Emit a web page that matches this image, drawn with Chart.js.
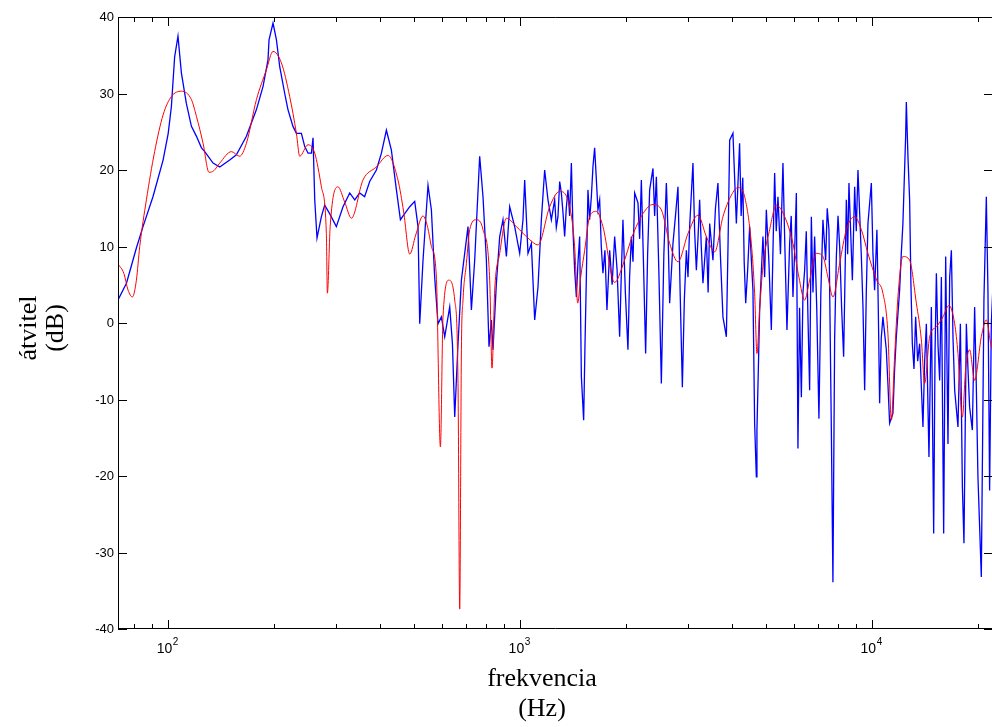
<!DOCTYPE html>
<html>
<head>
<meta charset="utf-8">
<script src="https://cdn.jsdelivr.net/npm/chart.js@4.4.1/dist/chart.umd.min.js"></script>
<style>
  html, body { margin: 0; padding: 0; background: #fff; overflow: hidden; }
  #wrap { width: 1000px; height: 727px; }
</style>
</head>
<body>
<div id="wrap"><canvas id="atvitel" width="1000" height="727"></canvas></div>
<script>
// measured transfer (blue) and smoothed version (red), frequency in Hz, level in dB
const blueFreq = [72, 76.1, 81.2, 84.8, 90.5, 96.7, 100, 102.1, 104.3, 106.6, 109, 112.6, 116.4, 120.3, 124.3, 127, 134.1, 140.1, 149.5, 156.2,
  166.8, 178.1, 185.9, 192.1, 193.4, 198.5, 203, 207.4, 214.3, 218.9, 226.2, 231.3, 239, 244.2, 249.6, 255.2, 257.9, 260.8, 264.7, 272.4,
  278.3, 287.5, 300.4, 313.8, 327.9, 338.8, 349.9, 361.5, 373.6, 390.4, 403.4, 416.8, 430.6, 445, 456.8, 469.8, 485.5, 501.6, 512.6, 518.3,
  529.6, 547.2, 559.4, 571.6, 584.2, 597.3, 610.4, 630.7, 642, 651.7, 665.9, 680.8, 695.6, 710.8, 726.8, 742.6, 767.3, 784.1, 801.7, 815.5,
  828.4, 837, 855.9, 874.6, 893.6, 913.8, 933.7, 964.7, 996.8, 1018.5, 1029.9, 1052.4, 1076, 1099.6, 1123.6, 1148.7, 1173.8, 1199.5, 1226.3, 1253.1,
  1266.7, 1280.5, 1295, 1309.2, 1323, 1337.8, 1352, 1367.1, 1382, 1397.9, 1413, 1428.3, 1444.4, 1460, 1475.7, 1492.3, 1514.8, 1528, 1541.9, 1558,
  1575, 1593.1, 1609.7, 1627.6, 1645, 1663.2, 1682.1, 1700, 1718.5, 1741, 1764.2, 1795.7, 1825, 1855.4, 1885, 1917, 1937, 1958.9, 1990, 2024,
  2046, 2069.7, 2092, 2114.9, 2161.2, 2185, 2209.5, 2240, 2272.5, 2302, 2332.9, 2384, 2410, 2437.4, 2477, 2518.4, 2560, 2602.1, 2630, 2659,
  2717.2, 2762, 2807.5, 2848, 2889.5, 2927, 2966.3, 2998, 3030.5, 3096.8, 3131, 3166.7, 3200, 3235.2, 3270, 3306, 3380.6, 3420, 3455, 3529.5,
  3588, 3647, 3705, 3768.2, 3853.3, 3895, 3937.6, 4022.7, 4113.6, 4201.6, 4245, 4290, 4330, 4372.9, 4430, 4487.2, 4585.2, 4636.2, 4688, 4706.6,
  4750, 4790.5, 4895.3, 4950, 5005, 5090, 5171.4, 5230, 5284.6, 5340, 5400.2, 5490, 5579.7, 5650, 5727.9, 5829.5, 5890, 5956.9, 6020, 6091.4,
  6155, 6220, 6294, 6360, 6430.2, 6500, 6570.9, 6644, 6718.6, 6790, 6864.2, 6960, 7061.3, 7150, 7248, 7377.6, 7455, 7538.9, 7658, 7738,
  7825, 7912.8, 8000, 8085.9, 8190, 8299.3, 8447.6, 8520, 8592.8, 8786.9, 8920, 9015, 9115.2, 9319, 9420, 9523, 9625, 9730, 9948, 10055,
  10164, 10318, 10410, 10502, 10615, 10732, 10972, 11090, 11212, 11457, 11585, 11715, 11970, 12100, 12231, 12451, 12508, 12639, 12780, 12890,
  13008, 13150, 13293, 13470, 13645, 13944, 14100, 14259, 14504, 14734, 14957, 15090, 15224, 15390, 15557, 15730, 15968, 16179, 16425, 16608,
  16792, 16975, 17160, 17535, 17812, 18047, 18235, 18522, 18720, 18923, 19262, 19554, 19765, 19981, 20428, 20780, 21108, 21333, 21569, 21809,
  22050];
const blueDb = [3.0, 5.2, 9.8, 12.6, 16.5, 21.3, 24.8, 28.3, 34.8, 37.5, 32.7, 28.7, 25.7, 24.4, 22.9, 22.4, 20.9, 20.4, 21.3, 22.0,
  24.4, 27.9, 30.9, 34.4, 37.0, 39.2, 37.0, 33.5, 30.0, 27.9, 25.7, 24.8, 24.8, 23.1, 22.2, 22.2, 24.2, 16.1, 11.1, 13.9,
  15.4, 14.3, 12.6, 15.2, 17.0, 16.1, 17.0, 16.5, 18.5, 20.0, 22.2, 25.2, 22.6, 17.4, 13.5, 14.3, 15.2, 15.9, 12.6, -0.1,
  8.2, 18.0, 14.8, 6.0, -0.1, 0.8, -1.8, 2.1, -2.7, -12.3, -2.7, 5.6, 9.1, 12.6, 1.7, 8.2, 21.8, 16.5, 8.2, -3.1,
  0.4, -3.5, 5.2, 11.3, 13.5, 8.7, 15.2, 12.6, 9.1, 13.5, 18.7, 9.1, 10.4, 0.4, 4.7, 13.5, 20.0, 16.1, 13.5, 16.1,
  12.5, 13.9, 18.5, 17.0, 14.5, 11.3, 15.0, 17.4, 14.0, 20.9, 12.0, 6.9, 3.4, 8.0, 11.3, -7.0, -12.7, -3.0, 6.0, 17.4,
  13.5, 16.5, 20.4, 22.9, 19.0, 14.8, 16.1, 10.0, 6.5, 9.5, 1.7, 9.5, 5.0, 11.3, 7.0, -1.8, 6.0, 13.5, 4.0, -3.5,
  6.0, 11.3, 8.0, 17.0, 15.7, 11.0, 18.7, 8.0, -4.0, 9.0, 17.4, 20.2, 14.0, 19.1, 7.0, -7.9, 9.0, 18.3, 12.0, 2.6,
  10.4, 14.0, 17.8, 4.0, -8.4, 3.0, 9.5, 6.0, 12.6, 20.9, 12.0, 6.9, 11.0, 16.1, 10.0, 5.2, 11.3, 4.0, 13.0, 8.2,
  15.0, 18.3, 9.0, 0.8, -1.8, 10.0, 23.9, 24.8, 13.0, 23.5, 14.0, 19.0, 8.0, 2.6, 7.0, 12.6, 4.3, -13.1, -20.1, -14.0,
  -6.0, 1.7, 11.3, 6.0, 14.8, 8.0, -0.9, 10.0, 19.6, 12.0, 16.5, 9.0, 20.9, 10.0, -0.9, 10.4, 14.0, 3.4, 9.0, 17.0,
  -16.4, 2.0, -9.7, 4.0, 6.9, 12.0, 0.8, -8.8, 13.9, 4.0, 11.3, 2.0, -12.5, 4.0, 13.5, 8.2, 15.0, 12.2, -14.0, -33.9,
  -2.0, 8.7, 14.0, 10.0, 2.0, -4.4, 16.1, 9.0, 18.3, 5.6, 17.8, 12.0, 20.0, 8.7, 2.0, -8.8, 4.0, 13.0, 18.3, 9.0,
  4.3, 12.2, 2.0, -10.5, -2.0, 0.8, -3.5, -8.0, -13.1, -11.8, -6.0, -1.8, 4.3, 9.0, 13.0, 24.4, 28.9, 21.8, 16.1, 5.0,
  -2.7, -6.0, 0.8, -5.0, -2.7, -13.6, -5.0, -0.1, -17.5, 2.1, -27.5, -4.0, 6.5, -3.0, -7.5, 6.0, -27.5, 8.7, -15.8, 6.0,
  9.5, -2.0, -8.8, -13.6, -0.1, -21.4, -28.8, -0.1, -6.0, -11.0, -14.0, 2.1, -8.0, -20.1, -33.2, 3.0, 16.5, 4.3, -21.9, -0.1,
  5.0];

const redFreq = [72, 74.8, 76.9, 79.1, 81.2, 83, 86.7, 91.5, 96.7, 102.1, 109, 116.4, 120.3, 125.6, 130.6, 134.7, 140.1, 151.2, 159.6, 166.8,
  178.1, 190.1, 198.5, 209.7, 221.4, 231.3, 236.4, 249.6, 260.8, 272.4, 281.4, 283.3, 288.5, 303.6, 317.3, 331.6, 357.6, 390.4, 421.1, 449.5,
  466.7, 485.5, 504.9, 529.6, 546.1, 559.4, 578, 593.4, 603.6, 627.8, 651.7, 665.9, 673.3, 680.8, 688, 703.5, 718.7, 751, 784.1, 819.3,
  831.7, 846.5, 874.6, 913.8, 975.4, 1064, 1123.6, 1213, 1294.5, 1382.4, 1428, 1457, 1485.6, 1525, 1575.2, 1646, 1718.5, 1855.4, 1958.9, 2080.7,
  2233, 2384, 2518, 2659, 2807.5, 2998, 3200, 3380.6, 3569.5, 3768, 3981, 4157, 4343, 4537, 4636, 4706.6, 4790, 4895, 5115, 5344,
  5642, 5957, 6194, 6430, 6644, 6943, 7248, 7489, 7738, 8086, 8448, 8920, 9319, 9730, 10299, 10732, 11089, 11340, 11584, 11838,
  12231, 12780, 13354, 13798, 14099, 14570, 15224, 15894, 16532, 17160, 17535, 18047, 18437, 18923, 19554, 20428, 21108, 21809, 22050];
const redDb = [7.7, 6.5, 4.3, 3.4, 5.6, 10.0, 16.1, 22.4, 27.2, 29.6, 30.3, 29.2, 27.0, 23.5, 19.7, 19.9, 20.9, 22.4, 21.8, 23.5,
  29.2, 33.1, 35.5, 34.0, 29.6, 24.8, 21.8, 23.3, 22.2, 17.8, 11.7, 3.9, 12.6, 17.8, 15.8, 13.7, 18.7, 20.4, 21.9, 18.7,
  14.5, 9.0, 11.5, 14.0, 12.5, 10.0, 6.0, -16.2, 0.8, 5.6, 3.0, -7.9, -37.4, -3.5, 3.0, 7.8, 12.2, 13.5, 12.2, 5.6,
  -5.9, 4.3, 9.1, 13.7, 12.6, 10.9, 10.2, 15.2, 17.2, 15.2, 10.0, 2.6, 6.0, 9.5, 13.9, 14.6, 12.6, 5.3, 7.6, 11.3,
  14.3, 15.5, 14.8, 10.4, 8.0, 11.7, 14.1, 11.3, 9.3, 13.9, 16.7, 17.7, 16.5, 10.4, 3.9, -4.0, 1.7, 7.4, 12.2, 15.4,
  13.9, 10.4, 6.0, 3.0, 5.6, 9.1, 8.7, 6.0, 3.4, 7.8, 12.2, 13.9, 12.2, 9.1, 5.6, 3.9, -1.4, -12.7, -4.4, 3.4,
  8.7, 8.2, 2.6, -2.2, -7.9, -1.8, -0.5, 0.8, 2.3, -0.1, -4.0, -12.3, -6.0, -3.5, -7.5, -1.8, 0.4, -3.1, -3.5];

const yTicks = [-40, -30, -20, -10, 0, 10, 20, 30, 40];
const xMajorTicks = [100, 1000, 10000];
const xMajorExp = ['2', '3', '4'];
const xTitle = ['frekvencia', '(Hz)'];
const yTitle = ['átvitel', '(dB)'];

const toPoints = (fs, vs) => fs.map((f, i) => ({ x: f, y: vs[i] }));

const matlabAxes = {
    id: 'matlabAxes',
    afterDraw(chart) {
        const ctx = chart.ctx;
        const xs = chart.scales.x, ys = chart.scales.y;
        const a = chart.chartArea;
        ctx.save();
        ctx.strokeStyle = '#000';
        ctx.fillStyle = '#000';
        ctx.lineWidth = 1;

        // box
        ctx.beginPath();
        ctx.moveTo(a.left + 0.5, a.top + 0.5); ctx.lineTo(a.right, a.top + 0.5);
        ctx.moveTo(a.left + 0.5, a.top); ctx.lineTo(a.left + 0.5, a.bottom);
        ctx.moveTo(a.left, a.bottom - 0.5); ctx.lineTo(a.right, a.bottom - 0.5);
        ctx.moveTo(a.right - 0.5, a.top); ctx.lineTo(a.right - 0.5, a.bottom);
        ctx.stroke();

        // y ticks + labels
        ctx.font = "13px 'Liberation Sans', Arial, sans-serif";
        ctx.textAlign = 'right';
        ctx.textBaseline = 'middle';
        yTicks.forEach(v => {
            const py = Math.round(ys.getPixelForValue(v)) + 0.5;
            ctx.beginPath();
            ctx.moveTo(a.left, py); ctx.lineTo(a.left + 9, py);
            ctx.moveTo(a.right, py); ctx.lineTo(a.right - 9, py);
            ctx.stroke();
            ctx.fillText(String(v), a.left - 4, py);
        });

        // x ticks (log): major + minor
        const tick = (f, len) => {
            const px = Math.round(xs.getPixelForValue(f)) + 0.5;
            ctx.beginPath();
            ctx.moveTo(px, a.bottom); ctx.lineTo(px, a.bottom - len);
            ctx.moveTo(px, a.top); ctx.lineTo(px, a.top + len);
            ctx.stroke();
        };
        for (let dec = 10; dec <= 10000; dec *= 10) {
            for (let m = 1; m <= 9; m++) {
                const f = m * dec;
                if (f < xs.min || f > xs.max) continue;
                tick(f, m === 1 ? 9 : 5);
            }
        }
        xMajorTicks.forEach((f, i) => {
            const px = xs.getPixelForValue(f);
            ctx.font = "14px 'Liberation Sans', Arial, sans-serif";
            ctx.textAlign = 'right';
            ctx.textBaseline = 'alphabetic';
            ctx.fillText('10', px + 4, 653);
            ctx.font = "10px 'Liberation Sans', Arial, sans-serif";
            ctx.textAlign = 'left';
            ctx.fillText(xMajorExp[i], px + 4.5, 645);
        });

        // axis titles
        ctx.font = "26px 'Liberation Serif', 'Times New Roman', serif";
        ctx.textAlign = 'center';
        ctx.textBaseline = 'alphabetic';
        ctx.fillText(xTitle[0], 542, 686);
        ctx.fillText(xTitle[1], 542, 716);

        ctx.translate(0, 328);
        ctx.rotate(-Math.PI / 2);
        ctx.fillText(yTitle[0], 0, 36);
        ctx.fillText(yTitle[1], 0, 63);
        ctx.restore();
    }
};

new Chart(document.getElementById('atvitel').getContext('2d'), {
    type: 'line',
    data: {
        datasets: [
            { label: 'smoothed', data: toPoints(redFreq, redDb), borderColor: '#ff0000', borderWidth: 1,
              pointRadius: 0, cubicInterpolationMode: 'monotone' },
            { label: 'measured', data: toPoints(blueFreq, blueDb), borderColor: '#0000ff', borderWidth: 1.3,
              pointRadius: 0, tension: 0 },
        ],
    },
    options: {
        responsive: false,
        animation: false,
        events: [],
        layout: { padding: { left: 118, top: 17, right: 7, bottom: 98 } },
        plugins: { legend: { display: false }, tooltip: { enabled: false } },
        scales: {
            x: { type: 'logarithmic', min: 72, max: 22050, display: false },
            y: { type: 'linear', min: -40, max: 40, display: false },
        },
    },
    plugins: [matlabAxes],
});
</script>
</body>
</html>
